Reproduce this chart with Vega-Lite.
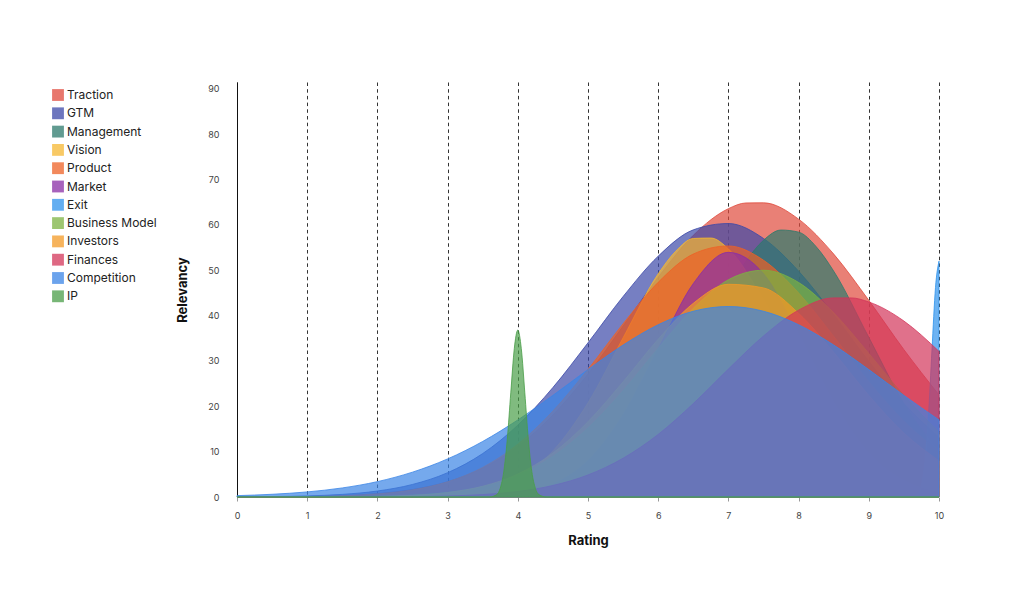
{
"$schema": "https://vega.github.io/schema/vega-lite/v6.json",
"width": 702, "height": 415,
"autosize": {"type": "none"},
"padding": {"left": 237, "top": 82, "right": 85, "bottom": 112},
"background": "white",
"config": {"view": {"stroke": null}, "font": "Inter"},
"data": {"values": [
{"s":"Traction","x":0,"y":0.01},{"s":"Traction","x":0.5,"y":0.04},{"s":"Traction","x":1,"y":0.12},{"s":"Traction","x":1.5,"y":0.31},{"s":"Traction","x":2,"y":0.75},{"s":"Traction","x":2.5,"y":1.65},{"s":"Traction","x":3,"y":3.37},{"s":"Traction","x":3.5,"y":6.37},{"s":"Traction","x":4,"y":11.15},{"s":"Traction","x":4.5,"y":18.07},{"s":"Traction","x":5,"y":27.1},{"s":"Traction","x":5.5,"y":37.7},{"s":"Traction","x":6,"y":48.45},{"s":"Traction","x":6.5,"y":57.7},{"s":"Traction","x":7,"y":63.57},{"s":"Traction","x":7.25,"y":64.83},{"s":"Traction","x":7.5,"y":64.86},{"s":"Traction","x":8,"y":61.26},{"s":"Traction","x":8.5,"y":53.56},{"s":"Traction","x":9,"y":43.36},{"s":"Traction","x":9.5,"y":32.49},{"s":"Traction","x":10,"y":22.5},
{"s":"GTM","x":0,"y":0.03},{"s":"GTM","x":0.5,"y":0.09},{"s":"GTM","x":1,"y":0.24},{"s":"GTM","x":1.5,"y":0.58},{"s":"GTM","x":2,"y":1.32},{"s":"GTM","x":2.5,"y":2.77},{"s":"GTM","x":3,"y":5.36},{"s":"GTM","x":3.5,"y":9.58},{"s":"GTM","x":4,"y":15.83},{"s":"GTM","x":4.5,"y":24.14},{"s":"GTM","x":5,"y":34.0},{"s":"GTM","x":5.5,"y":44.2},{"s":"GTM","x":6,"y":53.1},{"s":"GTM","x":6.5,"y":58.9},{"s":"GTM","x":7,"y":60.3},{"s":"GTM","x":7.5,"y":57.0},{"s":"GTM","x":8,"y":49.8},{"s":"GTM","x":8.5,"y":40.2},{"s":"GTM","x":9,"y":29.9},{"s":"GTM","x":9.5,"y":20.6},{"s":"GTM","x":10,"y":13.1},
{"s":"Management","x":0,"y":0},{"s":"Management","x":0.5,"y":0},{"s":"Management","x":1,"y":0},{"s":"Management","x":1.5,"y":0},{"s":"Management","x":2,"y":0},{"s":"Management","x":2.5,"y":0},{"s":"Management","x":3,"y":0.01},{"s":"Management","x":3.5,"y":0.05},{"s":"Management","x":4,"y":0.23},{"s":"Management","x":4.5,"y":0.89},{"s":"Management","x":5,"y":2.86},{"s":"Management","x":5.5,"y":7.57},{"s":"Management","x":6,"y":16.64},{"s":"Management","x":6.5,"y":30.2},{"s":"Management","x":7,"y":45.5},{"s":"Management","x":7.25,"y":51.96},{"s":"Management","x":7.5,"y":56.6},{"s":"Management","x":7.75,"y":58.86},{"s":"Management","x":8,"y":58.4},{"s":"Management","x":8.25,"y":55.2},{"s":"Management","x":8.5,"y":49.8},{"s":"Management","x":9,"y":35.2},{"s":"Management","x":9.5,"y":20.6},{"s":"Management","x":10,"y":9.95},
{"s":"Vision","x":0,"y":0},{"s":"Vision","x":0.5,"y":0},{"s":"Vision","x":1,"y":0},{"s":"Vision","x":1.5,"y":0},{"s":"Vision","x":2,"y":0.02},{"s":"Vision","x":2.5,"y":0.09},{"s":"Vision","x":3,"y":0.38},{"s":"Vision","x":3.5,"y":1.38},{"s":"Vision","x":4,"y":4.12},{"s":"Vision","x":4.5,"y":10.16},{"s":"Vision","x":5,"y":20.76},{"s":"Vision","x":5.5,"y":35.1},{"s":"Vision","x":6,"y":49.2},{"s":"Vision","x":6.25,"y":54.2},{"s":"Vision","x":6.5,"y":57.0},{"s":"Vision","x":6.75,"y":57.1},{"s":"Vision","x":7,"y":54.7},{"s":"Vision","x":7.5,"y":43.4},{"s":"Vision","x":8,"y":28.5},{"s":"Vision","x":8.5,"y":15.5},{"s":"Vision","x":9,"y":7.0},{"s":"Vision","x":9.5,"y":2.6},{"s":"Vision","x":10,"y":0.8},
{"s":"Product","x":0,"y":0.01},{"s":"Product","x":0.5,"y":0.03},{"s":"Product","x":1,"y":0.09},{"s":"Product","x":1.5,"y":0.26},{"s":"Product","x":2,"y":0.67},{"s":"Product","x":2.5,"y":1.56},{"s":"Product","x":3,"y":3.34},{"s":"Product","x":3.5,"y":6.53},{"s":"Product","x":4,"y":11.63},{"s":"Product","x":4.5,"y":18.94},{"s":"Product","x":5,"y":28.14},{"s":"Product","x":5.5,"y":38.2},{"s":"Product","x":6,"y":47.34},{"s":"Product","x":6.5,"y":53.57},{"s":"Product","x":7,"y":55.35},{"s":"Product","x":7.5,"y":52.2},{"s":"Product","x":8,"y":45.0},{"s":"Product","x":8.5,"y":35.4},{"s":"Product","x":9,"y":25.4},{"s":"Product","x":9.5,"y":16.7},{"s":"Product","x":10,"y":10.0},
{"s":"Market","x":0,"y":0},{"s":"Market","x":0.5,"y":0},{"s":"Market","x":1,"y":0},{"s":"Market","x":1.5,"y":0},{"s":"Market","x":2,"y":0},{"s":"Market","x":2.5,"y":0},{"s":"Market","x":3,"y":0.03},{"s":"Market","x":3.5,"y":0.18},{"s":"Market","x":4,"y":0.79},{"s":"Market","x":4.5,"y":2.81},{"s":"Market","x":5,"y":8.0},{"s":"Market","x":5.5,"y":18.1},{"s":"Market","x":6,"y":32.7},{"s":"Market","x":6.5,"y":47.06},{"s":"Market","x":7,"y":53.94},{"s":"Market","x":7.5,"y":49.25},{"s":"Market","x":8,"y":35.8},{"s":"Market","x":8.5,"y":20.8},{"s":"Market","x":9,"y":9.6},{"s":"Market","x":9.5,"y":3.53},{"s":"Market","x":10,"y":1.03},
{"s":"Exit","x":0,"y":0},{"s":"Exit","x":9.5,"y":0},{"s":"Exit","x":9.6,"y":0.03},{"s":"Exit","x":9.7,"y":0.75},{"s":"Exit","x":9.75,"y":2.72},{"s":"Exit","x":9.8,"y":7.9},{"s":"Exit","x":9.85,"y":18.0},{"s":"Exit","x":9.9,"y":32.4},{"s":"Exit","x":9.95,"y":46.2},{"s":"Exit","x":10,"y":52},
{"s":"Business Model","x":0,"y":0},{"s":"Business Model","x":0.5,"y":0},{"s":"Business Model","x":1,"y":0.01},{"s":"Business Model","x":1.5,"y":0.05},{"s":"Business Model","x":2,"y":0.15},{"s":"Business Model","x":2.5,"y":0.4},{"s":"Business Model","x":3,"y":1.01},{"s":"Business Model","x":3.5,"y":2.3},{"s":"Business Model","x":4,"y":4.76},{"s":"Business Model","x":4.5,"y":8.93},{"s":"Business Model","x":5,"y":15.2},{"s":"Business Model","x":5.5,"y":23.4},{"s":"Business Model","x":6,"y":32.8},{"s":"Business Model","x":6.5,"y":41.6},{"s":"Business Model","x":7,"y":47.9},{"s":"Business Model","x":7.5,"y":50.0},{"s":"Business Model","x":8,"y":47.3},{"s":"Business Model","x":8.5,"y":40.6},{"s":"Business Model","x":9,"y":31.65},{"s":"Business Model","x":9.5,"y":22.4},{"s":"Business Model","x":10,"y":14.3},
{"s":"Investors","x":0,"y":0},{"s":"Investors","x":0.5,"y":0},{"s":"Investors","x":1,"y":0.01},{"s":"Investors","x":1.5,"y":0.04},{"s":"Investors","x":2,"y":0.12},{"s":"Investors","x":2.5,"y":0.37},{"s":"Investors","x":3,"y":0.99},{"s":"Investors","x":3.5,"y":2.37},{"s":"Investors","x":4,"y":5.06},{"s":"Investors","x":4.5,"y":9.68},{"s":"Investors","x":5,"y":16.6},{"s":"Investors","x":5.5,"y":25.4},{"s":"Investors","x":6,"y":34.8},{"s":"Investors","x":6.5,"y":42.7},{"s":"Investors","x":7,"y":46.9},{"s":"Investors","x":7.5,"y":46.1},{"s":"Investors","x":8,"y":40.5},{"s":"Investors","x":8.5,"y":31.9},{"s":"Investors","x":9,"y":22.4},{"s":"Investors","x":9.5,"y":14.1},{"s":"Investors","x":10,"y":7.96},
{"s":"Finances","x":0,"y":0},{"s":"Finances","x":0.5,"y":0},{"s":"Finances","x":1,"y":0},{"s":"Finances","x":1.5,"y":0.01},{"s":"Finances","x":2,"y":0.03},{"s":"Finances","x":2.5,"y":0.08},{"s":"Finances","x":3,"y":0.22},{"s":"Finances","x":3.5,"y":0.54},{"s":"Finances","x":4,"y":1.22},{"s":"Finances","x":4.5,"y":2.54},{"s":"Finances","x":5,"y":4.86},{"s":"Finances","x":5.5,"y":8.55},{"s":"Finances","x":6,"y":13.8},{"s":"Finances","x":6.5,"y":20.6},{"s":"Finances","x":7,"y":28.2},{"s":"Finances","x":7.5,"y":35.5},{"s":"Finances","x":8,"y":41.2},{"s":"Finances","x":8.5,"y":43.9},{"s":"Finances","x":8.75,"y":43.9},{"s":"Finances","x":9,"y":43.0},{"s":"Finances","x":9.5,"y":38.8},{"s":"Finances","x":10,"y":32.1},
{"s":"Competition","x":0,"y":0.3},{"s":"Competition","x":0.5,"y":0.6},{"s":"Competition","x":1,"y":1.12},{"s":"Competition","x":1.5,"y":2.0},{"s":"Competition","x":2,"y":3.39},{"s":"Competition","x":2.5,"y":5.48},{"s":"Competition","x":3,"y":8.4},{"s":"Competition","x":3.5,"y":12.25},{"s":"Competition","x":4,"y":16.99},{"s":"Competition","x":4.5,"y":22.4},{"s":"Competition","x":5,"y":28.09},{"s":"Competition","x":5.5,"y":33.5},{"s":"Competition","x":6,"y":37.98},{"s":"Competition","x":6.5,"y":40.96},{"s":"Competition","x":7,"y":42},{"s":"Competition","x":7.5,"y":40.96},{"s":"Competition","x":8,"y":37.98},{"s":"Competition","x":8.5,"y":33.5},{"s":"Competition","x":9,"y":28.09},{"s":"Competition","x":9.5,"y":22.4},{"s":"Competition","x":10,"y":16.99},
{"s":"IP","x":0,"y":0},{"s":"IP","x":3.5,"y":0},{"s":"IP","x":3.6,"y":0.02},{"s":"IP","x":3.7,"y":0.53},{"s":"IP","x":3.75,"y":1.93},{"s":"IP","x":3.8,"y":5.58},{"s":"IP","x":3.85,"y":12.7},{"s":"IP","x":3.9,"y":22.96},{"s":"IP","x":3.95,"y":32.7},{"s":"IP","x":4,"y":36.8},{"s":"IP","x":4.05,"y":32.7},{"s":"IP","x":4.1,"y":22.96},{"s":"IP","x":4.15,"y":12.7},{"s":"IP","x":4.2,"y":5.58},{"s":"IP","x":4.25,"y":1.93},{"s":"IP","x":4.3,"y":0.53},{"s":"IP","x":4.4,"y":0.02},{"s":"IP","x":4.5,"y":0},{"s":"IP","x":10,"y":0}
]},
"mark": {"type": "area", "interpolate": "monotone", "fillOpacity": 0.7, "strokeWidth": 1, "strokeOpacity": 0.8},
"encoding": {
 "x": {"field": "x", "type": "quantitative", "scale": {"domain": [0, 10], "nice": false},
  "axis": {"values": [0,1,2,3,4,5,6,7,8,9,10], "title": "Rating", "grid": true, "gridDash": [3.5, 3.2], "gridColor": "#333", "gridWidth": 1, "domain": false, "ticks": true, "tickSize": 4, "tickColor": "#999", "labelFlush": false, "labelFontSize": 9, "labelColor": "#444", "labelPadding": 10, "titleFontSize": 13, "titleFontWeight": "bold", "titleColor": "#111", "titlePadding": 14}},
 "y": {"field": "y", "type": "quantitative", "stack": null, "scale": {"domain": [0, 91.5], "nice": false},
  "axis": {"values": [0,10,20,30,40,50,60,70,80,90], "title": "Relevancy", "grid": false, "ticks": false, "domain": true, "domainColor": "#111", "domainWidth": 1, "labelFlush": false, "labelFontSize": 9, "labelColor": "#444", "labelPadding": 18, "titleFontSize": 13, "titleFontWeight": "bold", "titleColor": "#111", "titlePadding": 18}},
 "color": {"field": "s", "type": "nominal",
  "scale": {"domain": ["Traction","GTM","Management","Vision","Product","Market","Exit","Business Model","Investors","Finances","Competition","IP"],
   "range": ["#e04a3c","#3c48a8","#2c7a6c","#f5b731","#ee6125","#8a2ea6","#2f93ec","#7cb342","#f39a26","#d3355a","#3a84e6","#4a9e48"]},
  "legend": {"title": null, "orient": "none", "legendX": -185, "legendY": 7, "symbolType": "square", "symbolSize": 140, "symbolOpacity": 0.75, "symbolStrokeWidth": 0, "labelFontSize": 12, "labelColor": "#222", "rowPadding": 6.3, "labelOffset": 3}},
 "stroke": {"field": "s", "type": "nominal",
  "scale": {"domain": ["Traction","GTM","Management","Vision","Product","Market","Exit","Business Model","Investors","Finances","Competition","IP"],
   "range": ["#e04a3c","#3c48a8","#2c7a6c","#f5b731","#ee6125","#8a2ea6","#2f93ec","#7cb342","#f39a26","#d3355a","#3a84e6","#4a9e48"]},
  "legend": null}
}
}
